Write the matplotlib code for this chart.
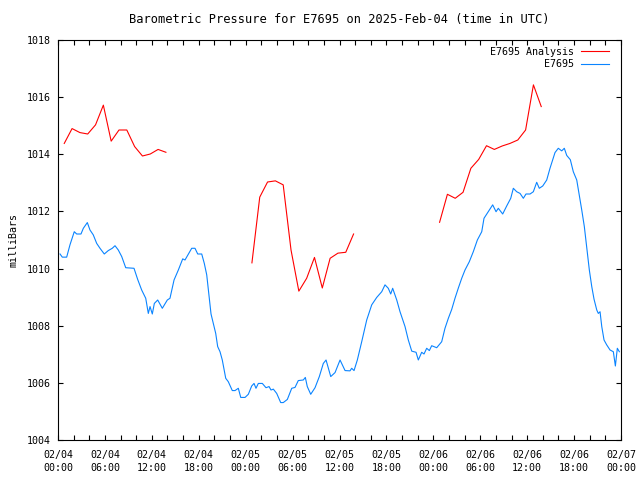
import matplotlib
matplotlib.use("Agg")
import matplotlib.pyplot as plt
from matplotlib.ticker import MultipleLocator
import numpy as np

# hours since 2025-02-04 00:00 UTC
obs_hours = [0.26, 0.55, 1.11, 1.53, 2.08, 2.39, 2.94, 3.24, 3.75, 4.09, 4.51, 4.95, 5.37, 5.92,
             6.43, 6.94, 7.29, 7.71, 8.15, 8.66, 9.72, 10.19, 10.70, 11.22, 11.55, 11.77, 12.06,
             12.32, 12.75, 13.34, 13.98, 14.32, 14.84, 15.39, 15.95, 16.24, 17.10, 17.52, 17.87,
             18.38, 18.71, 19.02, 19.31, 19.57, 19.86, 20.17, 20.42, 20.72, 21.01, 21.45, 21.78,
             22.29, 22.64, 23.06, 23.37, 23.92, 24.34, 24.77, 25.07, 25.32, 25.62, 26.13, 26.60,
             26.99, 27.24, 27.54, 27.97, 28.48, 28.81, 29.33, 29.89, 30.31, 30.73, 31.37, 31.63,
             31.88, 32.32, 32.87, 33.42, 33.93, 34.28, 34.88, 35.43, 36.07, 36.71, 37.34, 37.56,
             37.86, 38.28, 38.84, 39.48, 40.12, 40.76, 41.40, 41.82, 42.24, 42.55, 42.80, 43.32,
             43.74, 44.38, 44.80, 45.24, 45.79, 46.08, 46.51, 46.81, 47.15, 47.49, 47.79, 48.43,
             49.07, 49.49, 49.92, 50.35, 50.77, 51.20, 51.63, 52.05, 52.60, 53.11, 53.63, 54.19,
             54.48, 55.03, 55.59, 56.02, 56.31, 56.87, 57.38, 57.90, 58.23, 58.66, 59.09, 59.51,
             59.85, 60.37, 60.79, 61.22, 61.55, 61.99, 62.50, 62.92, 63.56, 63.98, 64.42, 64.75,
             65.06, 65.52, 65.90, 66.34, 66.67, 66.98, 67.31, 67.62, 67.95, 68.26, 68.55, 68.90,
             69.10, 69.32, 69.54, 69.83, 70.17, 70.60, 71.02, 71.28, 71.53, 71.79]
obs_mb = [1010.51, 1010.40, 1010.40, 1010.83, 1011.29, 1011.21, 1011.21, 1011.41, 1011.61, 1011.35,
          1011.18, 1010.88, 1010.71, 1010.51, 1010.63, 1010.71, 1010.80, 1010.65, 1010.42, 1010.03,
          1010.01, 1009.62, 1009.25, 1008.96, 1008.43, 1008.67, 1008.41, 1008.78, 1008.90, 1008.61,
          1008.90, 1008.96, 1009.60, 1009.95, 1010.34, 1010.30, 1010.71, 1010.71, 1010.51, 1010.51,
          1010.18, 1009.78, 1009.04, 1008.41, 1008.08, 1007.73, 1007.27, 1007.09, 1006.80, 1006.16,
          1006.04, 1005.73, 1005.73, 1005.81, 1005.49, 1005.49, 1005.60, 1005.89, 1005.98, 1005.81,
          1005.98, 1005.98, 1005.83, 1005.87, 1005.75, 1005.78, 1005.63, 1005.31, 1005.31, 1005.42,
          1005.81, 1005.84, 1006.08, 1006.10, 1006.19, 1005.87, 1005.60, 1005.83, 1006.22, 1006.68,
          1006.80, 1006.22, 1006.36, 1006.80, 1006.43, 1006.42, 1006.51, 1006.43, 1006.80, 1007.44,
          1008.20, 1008.73, 1008.99, 1009.19, 1009.43, 1009.31, 1009.11, 1009.31, 1008.90, 1008.49,
          1007.97, 1007.50, 1007.11, 1007.07, 1006.80, 1007.07, 1007.01, 1007.21, 1007.13, 1007.30,
          1007.23, 1007.44, 1007.91, 1008.26, 1008.57, 1008.96, 1009.32, 1009.66, 1009.95, 1010.24,
          1010.59, 1011.00, 1011.29, 1011.76, 1011.99, 1012.23, 1011.99, 1012.11, 1011.91, 1012.19,
          1012.46, 1012.81, 1012.69, 1012.63, 1012.46, 1012.61, 1012.61, 1012.69, 1013.02, 1012.81,
          1012.89, 1013.10, 1013.51, 1014.06, 1014.21, 1014.12, 1014.21, 1013.96, 1013.81, 1013.39,
          1013.10, 1012.56, 1012.05, 1011.47, 1010.72, 1009.95, 1009.37, 1008.93, 1008.55, 1008.43,
          1008.49, 1007.97, 1007.50, 1007.33, 1007.15, 1007.09, 1006.59, 1007.21, 1007.09]

# hourly analysis, three runs (nan = gap)
ana_hours = ([0.8 + i for i in range(14)] + [14.3] +
             [24.8 + i for i in range(14)] + [38.3] +
             [48.8 + i for i in range(14)])
ana_mb = [1014.38, 1014.90, 1014.76, 1014.71, 1015.03, 1015.72, 1014.46, 1014.85, 1014.85,
          1014.27, 1013.94, 1014.01, 1014.17, 1014.07,
          np.nan,
          1010.20, 1012.50, 1013.03, 1013.07, 1012.93, 1010.65, 1009.21, 1009.66, 1010.39,
          1009.32, 1010.36, 1010.54, 1010.57, 1011.21,
          np.nan,
          1011.62, 1012.60, 1012.46, 1012.67, 1013.51, 1013.82, 1014.30, 1014.17, 1014.29,
          1014.38, 1014.50, 1014.85, 1016.43, 1015.67]

tick_hours = list(range(0, 73, 6))
tick_labels = ["02/04\n00:00", "02/04\n06:00", "02/04\n12:00", "02/04\n18:00",
               "02/05\n00:00", "02/05\n06:00", "02/05\n12:00", "02/05\n18:00",
               "02/06\n00:00", "02/06\n06:00", "02/06\n12:00", "02/06\n18:00",
               "02/07\n00:00"]
yticks = list(range(1004, 1019, 2))

plt.rcParams['font.family'] = 'DejaVu Sans Mono'
plt.rcParams['font.size'] = 7.2

fig = plt.figure(figsize=(6.4, 4.8), dpi=100)
ax = fig.add_axes([58/640, 40/480, (621-58)/640, 400/480])

ax.plot(ana_hours, ana_mb, color='#ff0000', lw=0.8, label='E7695 Analysis')
ax.plot(obs_hours, obs_mb, color='#0a84ff', lw=0.8, label='E7695')

ax.set_xlim(0, 72)
ax.set_ylim(1004, 1018)
ax.set_xticks(tick_hours)
ax.set_xticklabels(tick_labels, linespacing=1.35)
ax.xaxis.set_minor_locator(MultipleLocator(2))
ax.set_yticks(yticks)
ax.tick_params(which='both', direction='in', length=3.5, width=0.8, top=True, right=True)
ax.tick_params(axis='x', pad=7)
ax.tick_params(axis='y', pad=5)
for s in ax.spines.values():
    s.set_linewidth(0.8)

ax.set_ylabel('milliBars', labelpad=6)
ax.set_title('Barometric Pressure for E7695 on 2025-Feb-04 (time in UTC)', pad=12)

leg = ax.legend(loc='upper right', frameon=False, markerfirst=False, handlelength=2.8,
                handletextpad=0.7, labelspacing=0.25, borderaxespad=0.0, borderpad=0.0,
                bbox_to_anchor=(1 - 11.7/563, 1 - 7/400))

fig.savefig('out.png', dpi=100)
